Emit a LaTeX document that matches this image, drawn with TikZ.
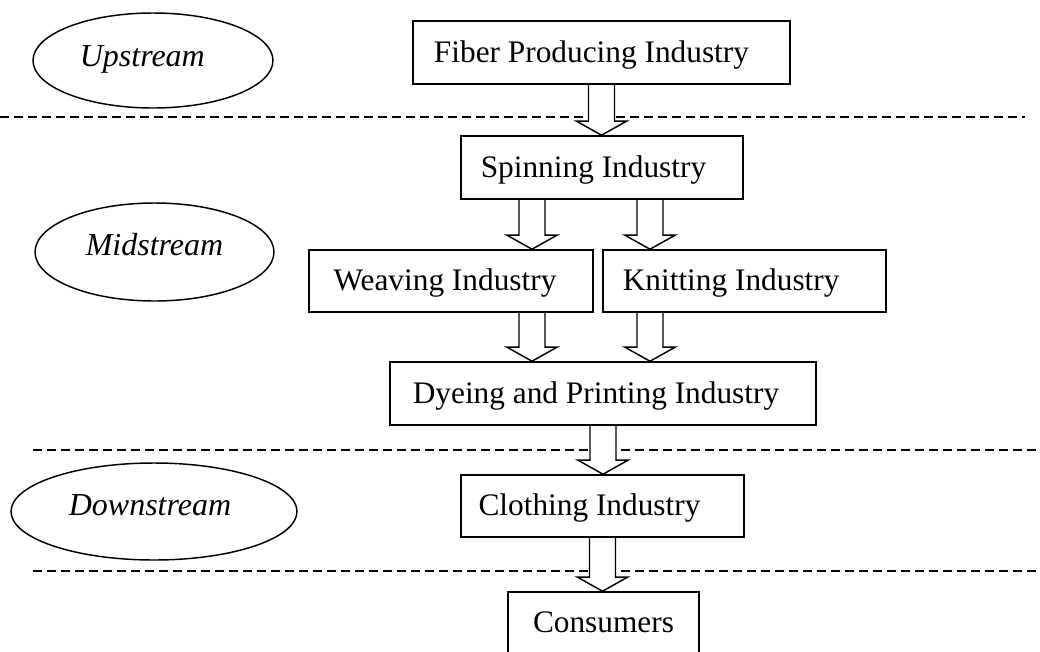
\documentclass[tikz,border=0pt]{standalone}
\usepackage{fontspec}
\setmainfont{Liberation Serif}
\usetikzlibrary{shapes.geometric,calc}
\pgfdeclarelayer{bg}
\pgfsetlayers{bg,main}
\tikzset{
  box/.style={draw, line width=1.2pt, inner sep=0pt, text depth=1.5pt, font=\fontsize{23.5}{28}\selectfont},
  stream/.style={draw, ellipse, line width=1.1pt, inner sep=0pt, font=\fontsize{24}{28}\selectfont\itshape},
  sep/.style={line width=1.1pt, dash pattern=on 6.75pt off 3.75pt},
  blockarr/.style={draw, fill=white, line width=1.1pt, line join=miter}
}
\newcommand{\blockarrow}[2]{%
  \draw[blockarr] let \p1=(#1), \p2=(#2) in
    (\x2-9.75pt,\y1) -- (\x2-9.75pt,\y2+10.5pt) -- (\x2-18.75pt,\y2+10.5pt) -- (\x2,\y2)
    -- (\x2+18.75pt,\y2+10.5pt) -- (\x2+9.75pt,\y2+10.5pt) -- (\x2+9.75pt,\y1);
}
\begin{document}
\begin{tikzpicture}[x=0.75pt,y=-0.75pt]
\clip (0,0) rectangle (1040,651);
% stream labels
\node[stream, text depth=6pt, minimum width=180pt, minimum height=71.25pt] (up) at (153,60.5) {Upstream\hspace*{16pt}};
\node[stream, text depth=12pt, minimum width=179.25pt, minimum height=73.5pt] (mid) at (154.5,252) {Midstream};
\node[stream, text depth=9pt, minimum width=214.5pt, minimum height=72.75pt] (down) at (154,511.5) {Downstream\hspace*{6pt}};
% industry boxes
\node[box, minimum width=282.75pt, minimum height=47.25pt] (fiber) at (601.5,52.5) {Fiber Producing Industry\hspace*{15pt}};
\node[box, minimum width=211.5pt, minimum height=47.25pt] (spin) at (602,167.5) {Spinning Industry\hspace*{12.75pt}};
\node[box, minimum width=213pt, minimum height=46.5pt] (weave) at (451,281) {Weaving Industry\hspace*{9pt}};
\node[box, minimum width=212.25pt, minimum height=46.5pt] (knit) at (744.5,281) {Knitting Industry\hspace*{20pt}};
\node[box, minimum width=319.5pt, minimum height=47.25pt] (dye) at (603,393.5) {Dyeing and Printing Industry\hspace*{10.5pt}};
\node[box, minimum width=212.25pt, minimum height=46.5pt] (cloth) at (602.5,506) {Clothing Industry\hspace*{19.5pt}};
\node[box, minimum width=143.25pt, minimum height=47.25pt] (cons) at (603.5,623.5) {Consumers};
% separator end points
\coordinate (d1a) at (0,117);   \coordinate (d1b) at (1025,117);
\coordinate (d2a) at (33,450);  \coordinate (d2b) at (1040,450);
\coordinate (d3a) at (33,571);  \coordinate (d3b) at (1040,571);
\coordinate (s1) at ($(spin.south)+(-70,0)$);
\coordinate (s2) at ($(spin.south)+(48,0)$);
\coordinate (w1) at (s1 |- weave.south);
\coordinate (k1) at (s2 |- knit.south);
\begin{pgfonlayer}{bg}
\fill[white] (0,0) rectangle (1040,651);
\draw[sep] (d1a) -- (d1b);
\draw[sep] (d2a) -- (d2b);
\draw[sep] (d3a) -- (d3b);
\blockarrow{fiber.south}{fiber.south |- spin.north}
\blockarrow{s1}{s1 |- weave.north}
\blockarrow{s2}{s2 |- knit.north}
\blockarrow{w1}{w1 |- dye.north}
\blockarrow{k1}{k1 |- dye.north}
\blockarrow{dye.south}{dye.south |- cloth.north}
\blockarrow{cloth.south}{cloth.south |- cons.north}
\end{pgfonlayer}
\end{tikzpicture}
\end{document}
